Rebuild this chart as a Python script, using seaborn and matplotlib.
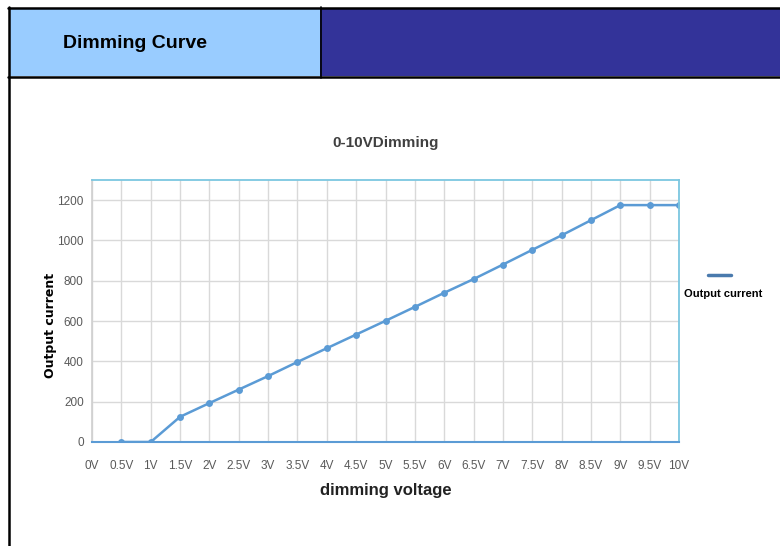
import numpy as np
import pandas as pd
import matplotlib
matplotlib.use('Agg')
import matplotlib.pyplot as plt
from matplotlib.patches import Rectangle
from matplotlib.lines import Line2D
import seaborn as sns

# dimming voltage (V) and measured output current
voltage = [0.5, 1, 1.5, 2, 2.5, 3, 3.5, 4, 4.5, 5, 5.5, 6, 6.5, 7, 7.5, 8, 8.5, 9, 9.5, 10]
current = [0, 0, 125, 193, 260, 327, 397, 465, 533, 601, 670, 740, 808, 880, 953, 1025, 1100, 1175, 1175, 1175]
tick_pos = [i * 0.5 for i in range(21)]
tick_labels = ["0V", "0.5V", "1V", "1.5V", "2V", "2.5V", "3V", "3.5V", "4V", "4.5V", "5V",
               "5.5V", "6V", "6.5V", "7V", "7.5V", "8V", "8.5V", "9V", "9.5V", "10V"]
y_ticks = [0, 200, 400, 600, 800, 1000, 1200]

sns.set_theme(style="white")
narrow = ['Liberation Sans Narrow', 'Liberation Sans', 'DejaVu Sans']

fig = plt.figure(figsize=(7.8, 5.46), dpi=100)

# header band drawn in pixel coords
bg = fig.add_axes([0, 0, 1, 1], zorder=0)
bg.set_xlim(0, 780)
bg.set_ylim(546, 0)
bg.axis('off')
bg.add_patch(Rectangle((9, 8), 311, 68, facecolor='#99ccff', edgecolor='none'))
bg.add_patch(Rectangle((320, 8), 460, 68, facecolor='#333399', edgecolor='none'))
bg.plot([8, 780], [7.5, 7.5], color='black', lw=1.8)
bg.plot([8, 780], [76.5, 76.5], color='black', lw=1.8)
bg.plot([8.5, 8.5], [7, 546], color='black', lw=1.8)
bg.plot([320.5, 320.5], [7, 78], color='black', lw=1.2)
bg.text(63, 43, "Dimming Curve", fontsize=14, fontweight='bold',
        family=['Liberation Sans', 'DejaVu Sans'], va='center', ha='left', color='black')

ax = fig.add_axes([0.118, 0.1905, 0.7525, 0.48], zorder=1)
df = pd.DataFrame({"voltage": voltage, "current": current})
sns.lineplot(data=df, x="voltage", y="current", ax=ax, color='#5b9bd5', lw=1.8,
             marker='o', markersize=5, markeredgewidth=0, legend=False)

ax.set_xlim(0, 10)
ax.set_ylim(0, 1300)
ax.set_xticks(tick_pos)
ax.set_xticklabels(tick_labels, family=narrow, fontsize=8.5, color='#595959')
ax.set_yticks(y_ticks)
ax.set_yticklabels([str(v) for v in y_ticks], family=narrow, fontsize=8.5, color='#595959')
ax.tick_params(axis='x', length=0, pad=13)
ax.tick_params(axis='y', length=0, pad=6)
ax.grid(True, color='#d9d9d9', lw=1)
ax.set_axisbelow(True)
for side in ['top', 'right']:
    ax.spines[side].set_color('#7cc7e0')
    ax.spines[side].set_linewidth(1.3)
ax.spines['left'].set_color('#d0d0d0')
ax.spines['bottom'].set_color('#5b9bd5')
ax.spines['bottom'].set_linewidth(1.5)

ax.set_xlabel("dimming voltage", family=narrow, fontsize=12, fontweight='bold',
              color='#222222', labelpad=8)
ax.set_ylabel("Output current", family=['DejaVu Sans'], fontsize=9, fontweight='bold',
              color='black')
ax.yaxis.set_label_coords(-0.06, 0.445)
ax.set_title("0-10VDimming", family=narrow, fontsize=11, fontweight='bold',
             color='#404040', pad=24)

# legend: line sample above the label
fig.add_artist(Line2D([708 / 780, 731 / 780], [1 - 275 / 546, 1 - 275 / 546],
                      color='#4a7aad', lw=2.5))
fig.text(723 / 780, 1 - 294 / 546, "Output current", family=narrow, fontsize=8,
         fontweight='bold', ha='center', va='center', color='black')

plt.savefig("out.png", dpi=100)
